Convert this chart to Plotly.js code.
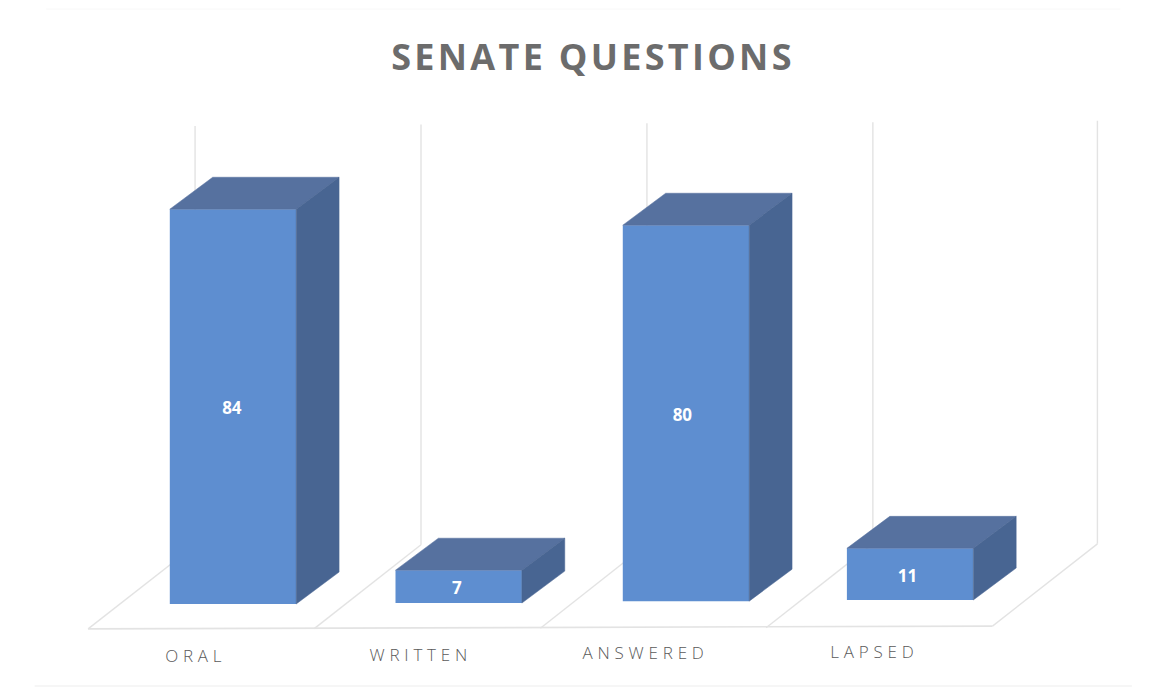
<!DOCTYPE html>
<html>
<head>
<meta charset="utf-8">
<script src="https://cdn.plot.ly/plotly-3.0.1.min.js"></script>
<style>
html,body{margin:0;padding:0;background:#fff;overflow:hidden}
#chart{width:1155px;height:688px}
.gtitle{letter-spacing:3.3px}
.scatterlayer .cat-label text{letter-spacing:4.8px}
</style>
</head>
<body>
<div id="chart"></div>
<script>
// Data
const categories = ['ORAL', 'WRITTEN', 'ANSWERED', 'LAPSED'];
const values = [84, 7, 80, 11];
const valueLabels = ['84', '7', '80', '11'];
// the scan is slightly tilted and unevenly spaced: per-category positions, in axis units
const barCenter = [0, 1, 2.007, 3];
const floorTilt = [0, 0.2, 0.6, 0.85];
const labelLevel = [-11.5, -11.3, -10.9, -10.6];
const labelOffset = [-0.165, -0.168, -0.172, -0.158];
const valueLabelOffset = [-0.005, -0.008, -0.016, -0.012];
const valueLabelDrop = 0.75;

// 3-D look, in axis units
const barWidth = 0.56, depthX = 0.19, depthY = 6.8;
const colFront = '#5e8ed0', colTop = '#56719f', colSide = '#486592', colGrid = '#e3e3e3';

// back-wall and floor gridlines
const gridBack = [-0.168, 0.833, 1.834, 2.835, 3.83];
const gridFront = [-0.642, 0.36, 1.362, 2.362, 3.365];
const gridTopLevel = [101.7, 102.0, 102.3, 102.5, 102.8];
const gridBackLevel = [12.5, 12.6, 12.7, 12.8, 12.8];
const gridFrontLevel = [-5.3, -5.25, -5.15, -5.05, -4.7];

const gridLine = (x0, y0, x1, y1, w) => ({type:'line', layer:'below', xref:'x', yref:'y',
  x0, y0, x1, y1, line:{color:colGrid, width:w}});
const shapes = [];
gridBack.forEach((gx, i) => {
  shapes.push(gridLine(gx, gridTopLevel[i], gx, gridBackLevel[i], 1.4));
  shapes.push(gridLine(gx, gridBackLevel[i], gridFront[i], gridFrontLevel[i], 1.4));
});
shapes.push(gridLine(gridFront[0], gridFrontLevel[0], gridFront[4], gridFrontLevel[4], 1.6));
// faint edges of the scanned page
shapes.push({type:'line', layer:'below', xref:'paper', yref:'paper', x0:0.04, x1:0.97, y0:1-9/688, y1:1-9/688, line:{color:'#f8f8f8', width:1}});
shapes.push({type:'line', layer:'below', xref:'paper', yref:'paper', x0:0.03, x1:0.98, y0:1-686/688, y1:1-686/688, line:{color:'#eeeeee', width:1.2}});

const traces = [];
// front faces
traces.push({type:'bar', x:barCenter, y:values, base:floorTilt, width:barWidth,
  marker:{color:colFront, line:{width:0}}, showlegend:false, hoverinfo:'skip'});

// top and side faces of each bar, derived from its value
values.forEach((v, i) => {
  const l = barCenter[i] - barWidth/2, r = barCenter[i] + barWidth/2, b = floorTilt[i], t = b + v;
  traces.push({type:'scatter', mode:'lines', fill:'toself', fillcolor:colTop, hoverinfo:'skip', showlegend:false,
    x:[l, r, r+depthX, l+depthX, l], y:[t, t, t+depthY, t+depthY, t], line:{color:colTop, width:0.5}});
  traces.push({type:'scatter', mode:'lines', fill:'toself', fillcolor:colSide, hoverinfo:'skip', showlegend:false,
    x:[r, r+depthX, r+depthX, r, r], y:[b, b+depthY, t+depthY, t, b], line:{color:colSide, width:0.5}});
});

// value labels
traces.push({type:'scatter', mode:'text', hoverinfo:'skip', showlegend:false,
  x:barCenter.map((c,i)=>c+valueLabelOffset[i]), y:values.map((v,i)=>floorTilt[i]+v/2-valueLabelDrop), text:valueLabels,
  textposition:'middle center',
  textfont:{family:'Open Sans, sans-serif', size:17, color:'#ffffff', weight:700}});

// category labels
traces.push({type:'scatter', mode:'text', hoverinfo:'skip', showlegend:false,
  x:labelOffset.map((o,i)=>i+o), y:labelLevel, text:categories, textposition:'middle center',
  textfont:{family:'Open Sans, sans-serif', size:17, color:'#5a5a5a', weight:300}});

const layout = {
  width:1155, height:688, margin:{l:0,r:0,t:0,b:0},
  paper_bgcolor:'#ffffff', plot_bgcolor:'#ffffff', showlegend:false, barmode:'overlay', shapes,
  title:{text:'<b>SENATE QUESTIONS</b>', x:593/1155, xanchor:'center', y:1-57/688, yanchor:'middle',
    font:{family:'Open Sans, sans-serif', size:36, color:'#6c6c6c'}},
  xaxis:{range:[-233/225.7, (1155-233)/225.7], visible:false, fixedrange:true},
  yaxis:{range:[-84/4.7, 604/4.7], visible:false, fixedrange:true}
};
Plotly.newPlot('chart', traces, layout, {staticPlot:true, displayModeBar:false}).then(() => {
  // widen the tracking of the category labels only
  const groups = document.querySelectorAll('.scatterlayer .trace');
  groups[groups.length - 1].classList.add('cat-label');
});
</script>
</body>
</html>
